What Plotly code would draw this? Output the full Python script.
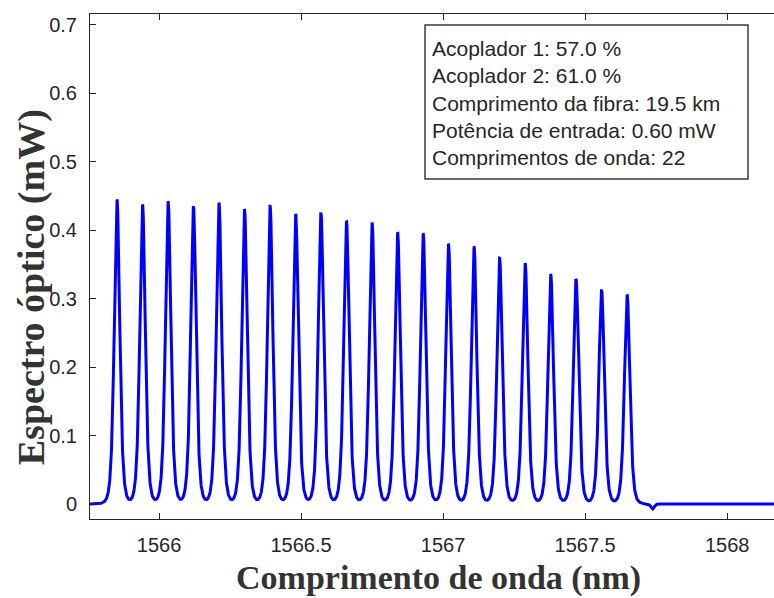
import numpy as np
import plotly.graph_objects as go

# ---- data ----
peak_wavelengths = [1565.852, 1565.942, 1566.032, 1566.121, 1566.211, 1566.301, 1566.391,
                    1566.481, 1566.570, 1566.660, 1566.750, 1566.840, 1566.930, 1567.019,
                    1567.109, 1567.199, 1567.289, 1567.379, 1567.468, 1567.558, 1567.648]
peak_powers = [0.445, 0.4375, 0.442, 0.4345, 0.440, 0.4305, 0.435, 0.4237, 0.4257, 0.412,
               0.411, 0.397, 0.395, 0.380, 0.376, 0.359, 0.352, 0.336, 0.3287, 0.3126, 0.3058]
dip_wavelength = 1567.737
dip_power = -0.0075

x_ticks = [1566, 1566.5, 1567, 1567.5, 1568]
x_ticktext = ["1566", "1566.5", "1567", "1567.5", "1568"]
y_ticks = [0, 0.1, 0.2, 0.3, 0.4, 0.5, 0.6, 0.7]
y_ticktext = ["0", "0.1", "0.2", "0.3", "0.4", "0.5", "0.6", "0.7"]
x_range = [1565.757, 1568.165]
y_range = [-0.022, 0.716]

info_labels = ["Acoplador 1", "Acoplador 2", "Comprimento da fibra",
               "Potência de entrada", "Comprimentos de onda"]
info_values = ["57.0 %", "61.0 %", "19.5 km", "0.60 mW", "22"]

x_title = "Comprimento de onda (nm)"
y_title = "Espectro óptico (mW)"

# ---- spectrum line built from the peaks ----
half_width = 0.022
wl = np.linspace(x_range[0], x_range[1], 6000)
spec = np.zeros_like(wl)
for c, a in zip(peak_wavelengths, peak_powers):
    spec += a / (1.0 + ((wl - c) / half_width) ** 2) ** 3
spec += dip_power * np.exp(-((wl - dip_wavelength) / 0.009) ** 2)

fig = go.Figure()
fig.add_trace(go.Scatter(x=wl, y=spec, mode="lines",
                         line=dict(color="#0000ff", width=3), showlegend=False,
                         hoverinfo="skip"))

axis_col = "#262626"
tick_font = dict(family="Liberation Sans, Arial, sans-serif", size=20, color=axis_col)

fig.update_layout(
    width=774, height=598,
    margin=dict(l=90, r=0, t=14, b=79),
    paper_bgcolor="white", plot_bgcolor="white",
    xaxis=dict(range=x_range, tickvals=x_ticks, ticktext=x_ticktext,
               showgrid=False, zeroline=False, showline=True, linecolor=axis_col,
               linewidth=1, mirror="ticks", ticks="inside", ticklen=6, tickwidth=1,
               tickcolor=axis_col, tickfont=tick_font, ticklabelstandoff=8),
    yaxis=dict(range=y_range, tickvals=y_ticks, ticktext=y_ticktext,
               showgrid=False, zeroline=False, showline=True, linecolor=axis_col,
               linewidth=1, mirror=False, ticks="inside", ticklen=6, tickwidth=1,
               tickcolor=axis_col, tickfont=tick_font, ticklabelstandoff=8),
)

# info text box
fig.add_shape(type="rect", xref="paper", yref="paper",
              x0=0.4898, x1=0.962, y0=0.6733, y1=0.978,
              line=dict(color="#3a3a3a", width=1.5), fillcolor="white", layer="above")
info_text = "<br>".join(f"{l}: {v}" for l, v in zip(info_labels, info_values))
fig.add_annotation(xref="paper", yref="paper", x=0.5, y=0.954,
                   xanchor="left", yanchor="top", align="left", showarrow=False,
                   text=info_text, borderpad=0, borderwidth=0,
                   font=dict(family="Liberation Sans, Arial, sans-serif", size=21,
                             color=axis_col))

fig.add_annotation(xref="paper", yref="paper", x=0.51, y=-0.1168,
                   xanchor="center", yanchor="middle", showarrow=False,
                   text=f"<b>{x_title}</b>",
                   font=dict(family="Liberation Serif, Times New Roman, serif", size=34,
                             color="#333333"))
fig.add_annotation(xref="paper", yref="paper", x=-0.0855, y=0.458,
                   xanchor="center", yanchor="middle", showarrow=False,
                   textangle=-90, text=f"<b>{y_title}</b>",
                   font=dict(family="Liberation Serif, Times New Roman, serif", size=38,
                             color="#333333"))

fig.write_html("out.html")
